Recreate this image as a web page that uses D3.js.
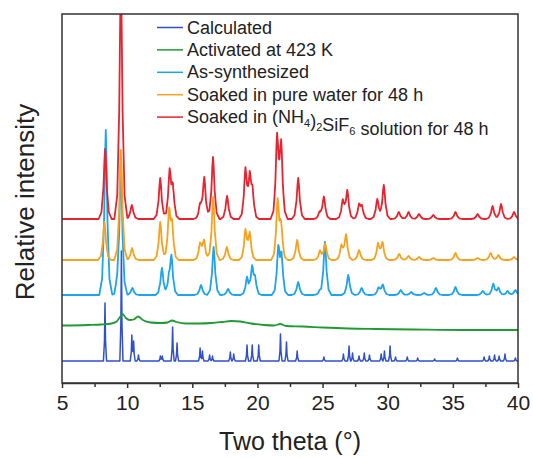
<!DOCTYPE html>
<html>
<head>
<meta charset="utf-8">
<script src="https://cdn.jsdelivr.net/npm/d3@7"></script>
<style>
  body { margin: 0; padding: 0; background: white; }
  text { font-family: "Liberation Sans", Arial, sans-serif; }
</style>
</head>
<body>
<div id="myVis"></div>
<script>
const width = 533;
const height = 458;
const margin = { top: 14, right: 15, bottom: 75, left: 62 };

const xTicks = [5, 10, 15, 20, 25, 30, 35, 40];
const xMinorTicks = [7.5, 12.5, 17.5, 22.5, 27.5, 32.5, 37.5];

const seriesNames = [
  "Calculated",
  "Activated at 423 K",
  "As-synthesized",
  "Soaked in pure water for 48 h",
  "Soaked in (NH4)2SiF6 solution for 48 h",
];
const seriesColors = ["#2f4fcf", "#1f9a34", "#1ea3ee", "#f6a21e", "#e8232e"];
// vertical offset of each trace (a.u.)
const seriesOffsets = [22, 57, 88, 123, 164];

// peak lists: [two theta, relative intensity]
const calcPeaks = [
  [8.30, 58], [9.56, 110], [10.36, 26], [10.50, 20], [10.87, 6], [12.55, 5], [12.70, 5],
  [13.49, 34], [13.83, 18], [15.60, 13], [15.78, 10], [16.33, 6], [16.55, 5], [17.92, 9],
  [18.18, 7], [19.20, 16], [19.60, 16], [20.10, 16], [21.77, 27], [22.23, 19], [23.05, 10],
  [25.10, 4], [26.60, 7], [27.03, 15], [27.30, 8], [27.80, 5], [28.20, 8], [28.60, 6],
  [29.50, 7], [29.75, 10], [30.18, 15], [30.60, 4], [31.50, 4], [32.30, 3], [33.60, 2],
  [35.35, 3], [37.40, 4], [37.80, 5], [38.20, 6], [38.55, 5], [39.00, 7], [39.80, 3],
];

// activated sample is nearly amorphous: broad humps, read point by point
const activatedPoints = [
  [5, 0.5], [7, 1], [8, 1.5], [8.8, 2.5], [9.2, 4.5], [9.45, 9], [9.65, 12], [9.9, 8],
  [10.2, 6], [10.5, 6.5], [10.85, 9.5], [11.2, 6], [11.8, 3.5], [12.6, 3], [13.1, 3.5],
  [13.45, 5.5], [13.8, 4], [14.5, 2.5], [15.5, 2.5], [16.5, 3], [17.3, 4], [18.0, 5],
  [18.7, 4.5], [19.5, 2.5], [20.5, 1], [21.3, 0.5], [21.75, 2], [22.2, 0], [23.5, -0.5],
  [25, -1.5], [27, -2.5], [29, -3], [32, -3.5], [36, -4], [40, -4],
];

const asSynthPeaks = [
  [8.36, 165], [9.25, 8], [9.52, 130], [10.40, 7], [12.67, 27], [13.20, 12], [13.40, 37],
  [15.67, 10], [16.64, 48], [17.75, 6], [19.20, 17], [19.59, 26], [19.82, 14], [21.60, 44],
  [21.85, 36], [23.13, 13], [24.75, 3], [25.18, 53], [26.97, 20], [28.00, 7], [29.30, 7],
  [29.62, 10], [31.00, 5], [31.80, 3], [32.80, 2], [33.70, 7], [35.20, 8], [37.30, 4],
  [38.10, 11], [38.50, 7], [39.20, 4], [39.80, 5],
];

const waterPeaks = [
  [8.26, 38], [9.52, 110], [10.38, 12], [12.54, 38], [13.22, 46], [13.45, 31], [15.60, 16],
  [15.90, 19], [16.60, 63], [17.65, 13], [19.08, 29], [19.41, 26], [21.55, 58], [21.82, 32],
  [23.05, 20], [24.80, 9], [25.20, 16], [26.45, 14], [26.80, 25], [27.80, 10], [29.26, 16],
  [29.60, 17], [30.88, 6], [31.60, 4], [32.40, 3], [33.50, 2], [35.20, 7], [36.90, 2],
  [37.90, 7], [38.50, 5], [39.70, 3],
];

const sifPeaks = [
  [8.31, 70], [9.52, 240], [10.36, 14], [12.54, 41], [13.26, 46], [13.51, 28], [15.60, 13],
  [15.92, 41], [16.59, 62], [17.67, 23], [19.08, 49], [19.41, 38], [19.62, 24], [21.51, 80],
  [21.82, 73], [23.13, 41], [24.77, 6], [25.10, 22], [26.55, 18], [26.90, 28], [27.80, 13],
  [28.02, 11], [29.20, 20], [29.70, 34], [30.85, 7], [31.60, 7], [32.40, 5], [33.50, 4],
  [35.20, 7], [36.90, 5], [38.05, 13], [38.70, 15], [39.70, 7],
];

// peak shapes: [offset in degrees, fraction of peak height]
const sharpShape = [[-0.12, 0], [-0.04, 0.35], [0, 1], [0.04, 0.35], [0.12, 0]];
const broadShape = [[-0.5, 0], [-0.28, 0.1], [-0.13, 0.45], [-0.05, 0.85], [0, 1], [0.05, 0.85], [0.13, 0.45], [0.28, 0.1], [0.5, 0]];

function shapeAt(d, shape) {
  if (d <= shape[0][0] || d >= shape[shape.length - 1][0]) return 0;
  for (let i = 1; i < shape.length; i++) {
    if (d <= shape[i][0]) {
      const t = (d - shape[i - 1][0]) / (shape[i][0] - shape[i - 1][0]);
      return shape[i - 1][1] + t * (shape[i][1] - shape[i - 1][1]);
    }
  }
  return 0;
}

// turn a peak list into line vertices (at every foot / apex of the peaks)
function pattern(peaks, shape) {
  const xs = new Set([5, 40]);
  peaks.forEach(function (p) {
    shape.forEach(function (s) { xs.add(+(p[0] + s[0]).toFixed(4)); });
  });
  return Array.from(xs)
    .filter((v) => v >= 5 && v <= 40)
    .sort((a, b) => a - b)
    .map((v) => [v, d3.sum(peaks, (p) => p[1] * shapeAt(v - p[0], shape))]);
}

const traces = [
  { points: pattern(calcPeaks, sharpShape), curve: d3.curveLinear, w: 1.5 },
  { points: activatedPoints, curve: d3.curveMonotoneX, w: 1.8 },
  { points: pattern(asSynthPeaks, broadShape), curve: d3.curveLinear, w: 1.8 },
  { points: pattern(waterPeaks, broadShape), curve: d3.curveLinear, w: 1.8 },
  { points: pattern(sifPeaks, broadShape), curve: d3.curveLinear, w: 1.8 },
];

const svg = d3
  .select("#myVis")
  .append("svg")
  .attr("width", width)
  .attr("height", height);

const x = d3.scaleLinear().domain([5, 40]).range([margin.left, width - margin.right]);
const y = d3.scaleLinear().domain([0, 369]).range([height - margin.bottom, margin.top]);

svg.append("defs")
  .append("clipPath")
  .attr("id", "plotClip")
  .append("rect")
  .attr("x", margin.left)
  .attr("y", margin.top)
  .attr("width", width - margin.left - margin.right)
  .attr("height", height - margin.top - margin.bottom);

const traceGroup = svg.append("g").attr("clip-path", "url(#plotClip)");

traces.forEach(function (t, i) {
  const line = d3.line()
    .x((d) => x(d[0]))
    .y((d) => y(d[1] + seriesOffsets[i]))
    .curve(t.curve);
  traceGroup.append("path")
    .datum(t.points)
    .attr("fill", "none")
    .attr("stroke", seriesColors[i])
    .attr("stroke-width", t.w)
    .attr("stroke-linejoin", "round")
    .attr("d", line);
});

// frame
svg.append("rect")
  .attr("x", margin.left)
  .attr("y", margin.top)
  .attr("width", width - margin.left - margin.right)
  .attr("height", height - margin.top - margin.bottom)
  .attr("fill", "none")
  .attr("stroke", "#333")
  .attr("stroke-width", 1.5);

// x axis
const xAxis = svg.append("g")
  .attr("transform", "translate(0," + (height - margin.bottom) + ")")
  .call(d3.axisBottom(x).tickValues(xTicks).tickSize(5).tickSizeOuter(0).tickPadding(7));
xAxis.select(".domain").attr("stroke", "#333").attr("stroke-width", 1.5);
xAxis.selectAll(".tick line").attr("stroke", "#333").attr("stroke-width", 1.5);
xAxis.selectAll(".tick text")
  .style("font-size", "21px")
  .style("font-family", "'Liberation Sans', Arial, sans-serif")
  .attr("fill", "#222");

const xMinor = svg.append("g")
  .attr("transform", "translate(0," + (height - margin.bottom) + ")")
  .call(d3.axisBottom(x).tickValues(xMinorTicks).tickSize(4).tickFormat(""));
xMinor.select(".domain").remove();
xMinor.selectAll(".tick line").attr("stroke", "#333").attr("stroke-width", 1.5);

// axis titles
svg.append("text")
  .attr("x", (margin.left + width - margin.right) / 2)
  .attr("y", 450)
  .attr("text-anchor", "middle")
  .style("font-size", "25px")
  .style("fill", "#222")
  .text("Two theta (\u00B0)");

svg.append("text")
  .attr("transform", "translate(34,202) rotate(-90)")
  .attr("text-anchor", "middle")
  .style("font-size", "26px")
  .style("fill", "#222")
  .text("Relative intensity");

// legend
const legend = svg.append("g");
const legendY = (i) => 27.5 + i * 22.4;

legend.selectAll("line")
  .data(seriesNames)
  .enter()
  .append("line")
  .attr("x1", 157)
  .attr("x2", 183)
  .attr("y1", (d, i) => legendY(i))
  .attr("y2", (d, i) => legendY(i))
  .attr("stroke", (d, i) => seriesColors[i])
  .attr("stroke-width", 1.5);

legend.selectAll("text")
  .data(seriesNames)
  .enter()
  .append("text")
  .attr("x", 187)
  .attr("y", (d, i) => legendY(i) + 6)
  .style("font-size", "18px")
  .style("fill", "#222")
  .each(function (d) {
    const el = d3.select(this);
    // chemical formula: digits after "NH", ")" and "SiF" become subscripts
    const parts = d.split(/(?<=NH|\)|SiF)(\d)/);
    parts.forEach(function (p, k) {
      if (k % 2 === 1) {
        el.append("tspan").attr("dy", 4).style("font-size", "11px").text(p);
        el.append("tspan").attr("dy", -4).text("");
      } else if (p.length) {
        el.append("tspan").text(p);
      }
    });
  });
</script>
</body>
</html>
